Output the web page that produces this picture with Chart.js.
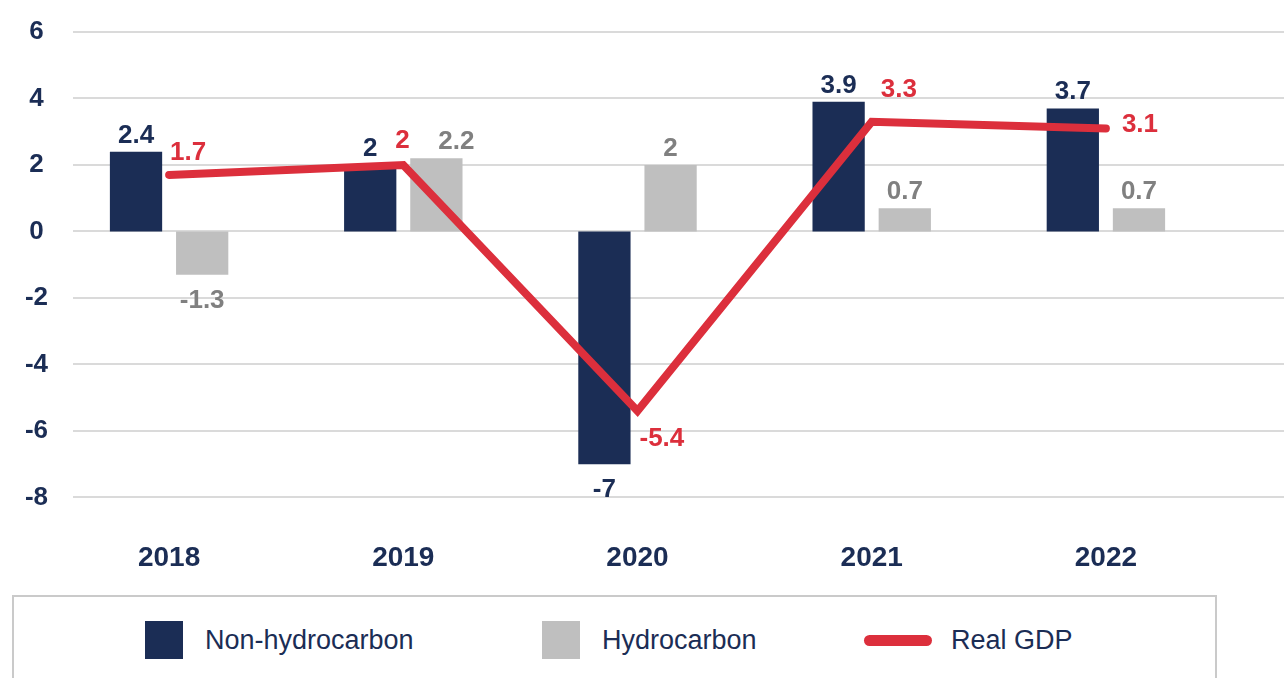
<!DOCTYPE html>
<html>
<head>
<meta charset="utf-8">
<script src="https://cdn.jsdelivr.net/npm/chart.js@4/dist/chart.umd.min.js"></script>
<style>
  body { margin: 0; background: #fff; overflow: hidden; font-family: "Liberation Sans", Arial, sans-serif; }
  #wrap { position: relative; width: 1284px; height: 678px; overflow: hidden; }
  #chart { position: absolute; left: 0; top: 0; }
  #legend { position: absolute; left: 12px; top: 595px; width: 1205px; height: 110px; border: 2px solid #cacaca; box-sizing: border-box; background: #fff; }
  .item { position: absolute; top: 24px; height: 38px; display: flex; align-items: center; color: #1b2d55; font-size: 27px; }
  .swatch { width: 38px; height: 38px; margin-right: 22px; }
  .swatch.line { width: 68px; height: 11px; border-radius: 6px; margin-right: 19px; }
</style>
</head>
<body>
<div id="wrap">
  <canvas id="chart" width="1284" height="640"></canvas>
  <div id="legend"></div>
</div>
<script>
// Datos
const years = ["2018", "2019", "2020", "2021", "2022"];
const nonHydro = [2.4, 2, -7, 3.9, 3.7];
const hydro = [-1.3, 2.2, 2, 0.7, 0.7];
const realGdp = [1.7, 2, -5.4, 3.3, 3.1];
const yTicks = [6, 4, 2, 0, -2, -4, -6, -8];

// Desplazamiento de las etiquetas (px)
const gdpLabelDx = [1, -8, 2, 9, 16];
const gdpLabelDy = [-15, -17, 35, -25, 4];
const hydroLabelDx = [0, 20, 0, 0, 0];

const NAVY = "#1b2d55";
const GREY = "#bfbfbf";
const RED = "#dc2f3c";

// Lineas de cuadricula que van de x=73 hasta el borde derecho
const gridPlugin = {
  id: "grid",
  beforeDatasetsDraw(chart) {
    const ctx = chart.ctx;
    const y = chart.scales.y;
    ctx.save();
    ctx.strokeStyle = "#dadada";
    ctx.lineWidth = 2;
    yTicks.forEach(v => {
      const py = Math.round(y.getPixelForValue(v));
      ctx.beginPath();
      ctx.moveTo(73, py);
      ctx.lineTo(chart.width, py);
      ctx.stroke();
    });
    ctx.restore();
  }
};

// Etiquetas de valores
const labelPlugin = {
  id: "valueLabels",
  afterDatasetsDraw(chart) {
    const ctx = chart.ctx;
    ctx.save();
    ctx.font = "bold 26px 'Liberation Sans', Arial, sans-serif";
    ctx.textBaseline = "alphabetic";
    chart.data.datasets.forEach((ds, i) => {
      const meta = chart.getDatasetMeta(i);
      meta.data.forEach((el, j) => {
        const v = ds.data[j];
        const txt = String(v);
        if (ds.type === "line") {
          ctx.fillStyle = RED;
          ctx.textAlign = "left";
          ctx.fillText(txt, el.x + gdpLabelDx[j], el.y + gdpLabelDy[j]);
        } else {
          const dx = ds.labelDx ? ds.labelDx[j] : 0;
          ctx.fillStyle = ds.labelColor;
          ctx.textAlign = "center";
          if (v >= 0) ctx.fillText(txt, el.x + dx, el.y - 9);
          else ctx.fillText(txt, el.x + dx, el.y + 33);
        }
      });
    });
    ctx.restore();
  }
};

const chart = new Chart(document.getElementById("chart"), {
  type: "bar",
  data: {
    labels: years,
    datasets: [
      {
        type: "line",
        label: "Real GDP",
        data: realGdp,
        borderColor: RED,
        backgroundColor: RED,
        borderWidth: 8,
        borderCapStyle: "round",
        borderJoinStyle: "miter",
        pointRadius: 0,
        tension: 0,
        order: 0
      },
      {
        label: "Non-hydrocarbon",
        data: nonHydro,
        backgroundColor: NAVY,
        labelColor: NAVY,
        categoryPercentage: 0.565,
        barPercentage: 0.79,
        order: 1
      },
      {
        label: "Hydrocarbon",
        data: hydro,
        backgroundColor: GREY,
        labelColor: "#808080",
        labelDx: hydroLabelDx,
        categoryPercentage: 0.565,
        barPercentage: 0.79,
        order: 1
      }
    ]
  },
  options: {
    responsive: false,
    animation: false,
    layout: { padding: { top: 32, right: 61, bottom: 21, left: 0 } },
    plugins: {
      legend: { display: false },
      tooltip: { enabled: false }
    },
    scales: {
      x: {
        grid: { display: false, drawTicks: false },
        border: { display: false },
        ticks: { color: NAVY, padding: 44, font: { family: "'Liberation Sans', Arial, sans-serif", size: 28, weight: "bold" } }
      },
      y: {
        min: -8,
        max: 6,
        afterBuildTicks: s => { s.ticks = yTicks.map(v => ({ value: v })); },
        afterFit: s => { s.width = 52; },
        grid: { display: false, drawTicks: false },
        border: { display: false },
        ticks: { color: NAVY, padding: 4, crossAlign: "center", font: { family: "'Liberation Sans', Arial, sans-serif", size: 26, weight: "bold" } }
      }
    }
  },
  plugins: [gridPlugin, labelPlugin]
});

// Leyenda
const legendLefts = [131, 528, 850];
const legendOrder = [1, 2, 0];
const legend = document.getElementById("legend");
legendOrder.forEach((di, k) => {
  const ds = chart.data.datasets[di];
  const item = document.createElement("div");
  item.className = "item";
  item.style.left = legendLefts[k] + "px";
  const sw = document.createElement("span");
  sw.className = ds.type === "line" ? "swatch line" : "swatch";
  sw.style.background = ds.backgroundColor;
  const tx = document.createElement("span");
  tx.textContent = ds.label;
  item.appendChild(sw);
  item.appendChild(tx);
  legend.appendChild(item);
});
</script>
</body>
</html>
